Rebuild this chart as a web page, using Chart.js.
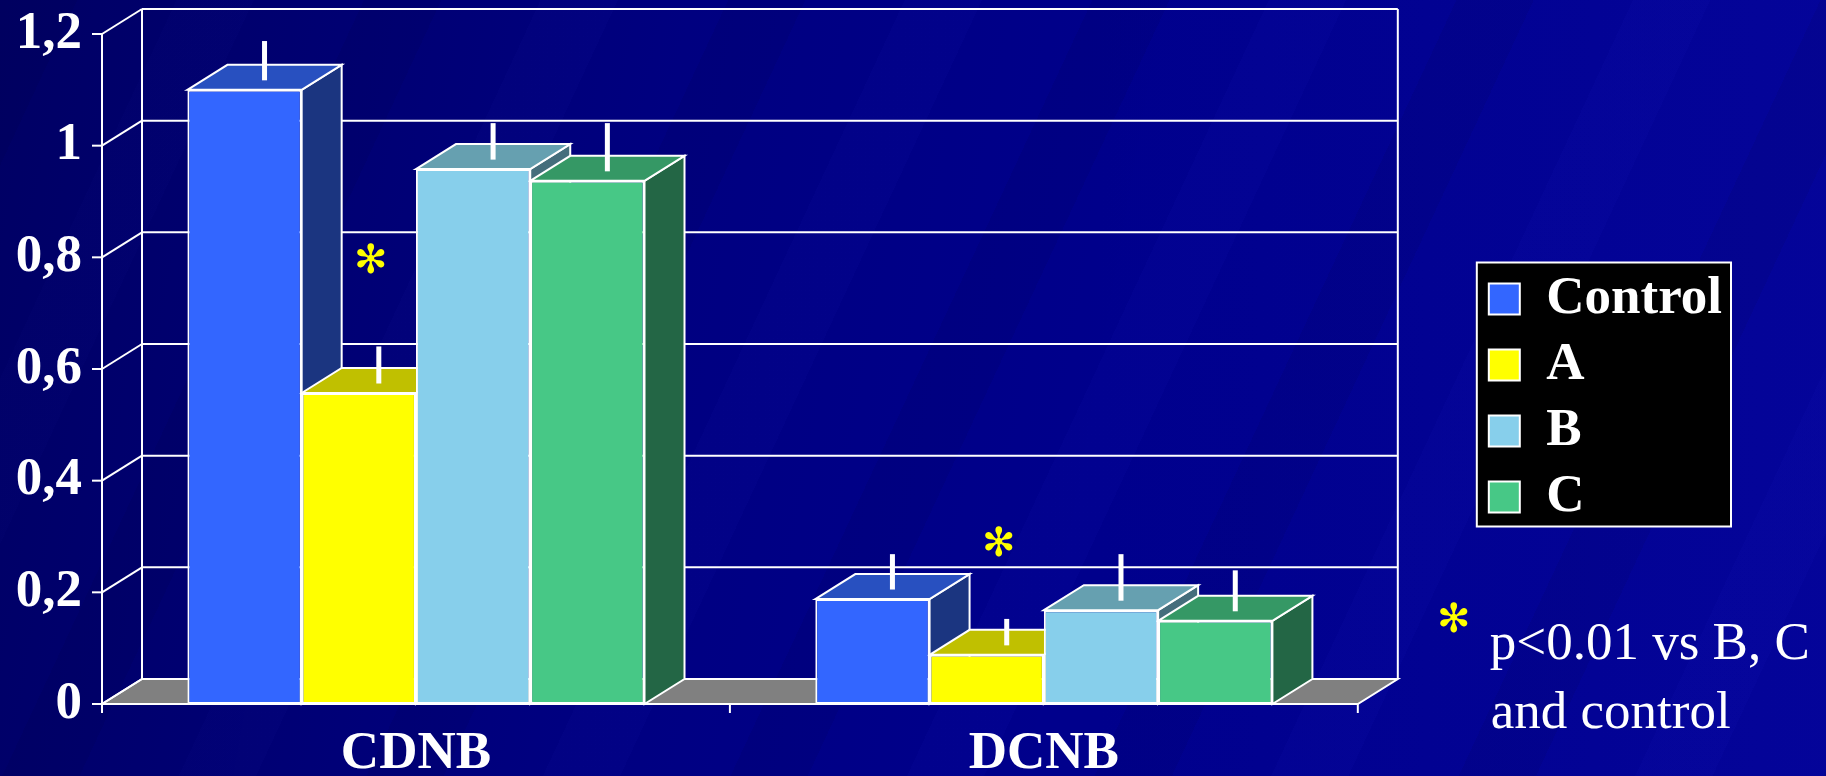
<!DOCTYPE html>
<html>
<head>
<meta charset="utf-8">
<script src="https://cdn.jsdelivr.net/npm/chart.js@4"></script>
<style>
  html, body { margin: 0; padding: 0; }
  body {
    width: 1826px;
    height: 776px;
    overflow: hidden;
    background-color: #00008c;
    background-image:
      linear-gradient(100deg, rgba(0,0,40,0.40) 0%, rgba(0,0,40,0.12) 35%, rgba(0,0,0,0) 60%),
      repeating-linear-gradient(115deg, rgba(0,0,50,0.08) 0px, rgba(0,0,50,0.08) 70px, rgba(0,0,0,0) 70px, rgba(0,0,0,0) 160px, rgba(40,40,220,0.05) 160px, rgba(40,40,220,0.05) 230px, rgba(0,0,0,0) 230px, rgba(0,0,0,0) 330px),
      linear-gradient(90deg, rgba(0,0,0,0) 60%, rgba(20,20,200,0.22) 100%);
  }
  canvas { display: block; }
</style>
</head>
<body>
<canvas id="chart" width="1826" height="776"></canvas>
<script>
// Datos
const categories = ['CDNB', 'DCNB'];
const seriesNames = ['Control', 'A', 'B', 'C'];
const controlValues = [1.10, 0.188];
const aValues = [0.557, 0.088];
const bValues = [0.958, 0.168];
const cValues = [0.937, 0.149];
const controlErrors = [0.065, 0.058];
const aErrors = [0.061, 0.042];
const bErrors = [0.060, 0.078];
const cErrors = [0.081, 0.068];
// nivel (en unidades del eje) de los asteriscos sobre las barras A
const starLevels = [0.79, 0.283];
const yTickLabels = ['0', '0,2', '0,4', '0,6', '0,8', '1', '1,2'];
const footnoteLines = ['p<0.01 vs B, C', 'and control'];

const seriesValues = [controlValues, aValues, bValues, cValues];
const seriesErrors = [controlErrors, aErrors, bErrors, cErrors];

// Estilos
const frontColors = ['#3366ff', '#ffff00', '#87cfeb', '#47c886'];
const topColors = ['#2850c0', '#c0c000', '#66a0b0', '#359865'];
const sideColors = ['#1b3580', '#808000', '#456e7c', '#236645'];
const DX = 40, DY = 25; // profundidad del efecto 3D
const SERIF = '"Liberation Serif", "Times New Roman", serif';
const STAR = '\u273B';

function poly(ctx, pts, fill) {
  ctx.beginPath();
  ctx.moveTo(pts[0][0], pts[0][1]);
  for (let i = 1; i < pts.length; i++) ctx.lineTo(pts[i][0], pts[i][1]);
  ctx.closePath();
  if (fill) { ctx.fillStyle = fill; ctx.fill(); }
  ctx.stroke();
}

function line(ctx, x1, y1, x2, y2) {
  ctx.beginPath();
  ctx.moveTo(x1, y1);
  ctx.lineTo(x2, y2);
  ctx.stroke();
}

// Dibuja paredes, suelo, caras laterales/superiores, barras de error y notas
const box3d = {
  id: 'box3d',
  beforeDraw(chart) {
    const lg = chart.legend;
    const hb = lg.legendHitBoxes;
    if (!hb || !hb.length) return;
    const ctx = chart.ctx;
    const top = hb[0].top - 10;
    const last = hb[hb.length - 1];
    const bottom = last.top + last.height + 3;
    ctx.save();
    ctx.fillStyle = '#000';
    ctx.fillRect(lg.left, top, lg.width, bottom - top);
    ctx.strokeStyle = '#fff';
    ctx.lineWidth = 2;
    ctx.strokeRect(lg.left + 1, top, lg.width - 2, bottom - top);
    ctx.restore();
  },
  beforeDatasetsDraw(chart) {
    const { ctx, chartArea: a, scales: { y } } = chart;
    ctx.save();
    ctx.strokeStyle = '#fff';
    ctx.lineWidth = 2;

    // suelo
    poly(ctx, [[a.left, a.bottom], [a.right, a.bottom], [a.right + DX, a.bottom - DY], [a.left + DX, a.bottom - DY]], '#808080');

    // rejilla en pared izquierda y fondo
    y.ticks.forEach(t => {
      const py = y.getPixelForValue(t.value);
      line(ctx, a.left - 10, py, a.left, py);
      line(ctx, a.left, py, a.left + DX, py - DY);
      line(ctx, a.left + DX, py - DY, a.right + DX, py - DY);
    });
    line(ctx, a.left, a.top, a.left, a.bottom + 9);
    line(ctx, a.left + DX, a.top - DY, a.left + DX, a.bottom - DY);
    line(ctx, a.right + DX, a.top - DY, a.right + DX, a.bottom - DY);

    const step = a.width / categories.length;
    for (let k = 1; k <= categories.length; k++) {
      line(ctx, a.left + k * step, a.bottom, a.left + k * step, a.bottom + 9);
    }

    // caras lateral y superior, de izquierda a derecha
    for (let j = 0; j < categories.length; j++) {
      chart.data.datasets.forEach((ds, i) => {
        const bar = chart.getDatasetMeta(i).data[j];
        const l = bar.x - bar.width / 2, r = bar.x + bar.width / 2;
        poly(ctx, [[r, bar.y], [r + DX, bar.y - DY], [r + DX, bar.base - DY], [r, bar.base]], sideColors[i]);
        poly(ctx, [[l, bar.y], [l + DX, bar.y - DY], [r + DX, bar.y - DY], [r, bar.y]], topColors[i]);
      });
    }
    ctx.restore();
  },
  afterDatasetsDraw(chart) {
    const { ctx, scales: { y } } = chart;
    ctx.save();
    ctx.strokeStyle = '#fff';
    ctx.lineWidth = 5;
    chart.data.datasets.forEach((ds, i) => {
      chart.getDatasetMeta(i).data.forEach((bar, j) => {
        const xm = bar.x + DX / 2;
        const yTop = y.getPixelForValue(seriesValues[i][j] + seriesErrors[i][j]) - DY / 2;
        line(ctx, xm, bar.y - DY / 2 + 3, xm, yTop);
      });
    });

    // asteriscos de significación sobre las barras A
    ctx.fillStyle = '#ffff00';
    ctx.font = '40px "DejaVu Sans"';
    ctx.textAlign = 'center';
    ctx.textBaseline = 'middle';
    chart.getDatasetMeta(1).data.forEach((bar, j) => {
      ctx.fillText(STAR, bar.x + 12, y.getPixelForValue(starLevels[j]));
    });
    ctx.restore();
  },
  afterDraw(chart) {
    const lg = chart.legend;
    const hb = lg.legendHitBoxes;
    const last = hb[hb.length - 1];
    const boxBottom = last.top + last.height + 3;
    const ctx = chart.ctx;
    ctx.save();
    ctx.fillStyle = '#ffff00';
    ctx.font = '40px "DejaVu Sans"';
    ctx.textAlign = 'center';
    ctx.textBaseline = 'middle';
    ctx.fillText(STAR, lg.left - 22, boxBottom + 95);
    ctx.fillStyle = '#fff';
    ctx.font = '53px ' + SERIF;
    ctx.textAlign = 'left';
    ctx.textBaseline = 'alphabetic';
    ctx.fillText(footnoteLines[0], lg.left + 14, boxBottom + 132);
    ctx.fillText(footnoteLines[1], lg.left + 15, boxBottom + 201);
    ctx.restore();
  }
};

const tickFont = { family: SERIF, size: 53, weight: 'bold' };

new Chart(document.getElementById('chart'), {
  type: 'bar',
  data: {
    labels: categories,
    datasets: seriesNames.map((name, i) => ({
      label: name,
      data: seriesValues[i],
      backgroundColor: frontColors[i],
      borderColor: '#ffffff',
      borderWidth: 2,
      borderSkipped: false,
      categoryPercentage: 0.728,
      barPercentage: 1.0
    }))
  },
  options: {
    responsive: false,
    animation: false,
    layout: {
      autoPadding: false,
      padding: { left: 0, top: 20, right: 94, bottom: 0 }
    },
    plugins: {
      legend: {
        position: 'right',
        align: 'center',
        labels: {
          color: '#ffffff',
          font: tickFont,
          boxWidth: 31,
          boxHeight: 31,
          padding: 13
        }
      },
      tooltip: { enabled: false }
    },
    scales: {
      x: {
        grid: { display: false, drawTicks: false },
        border: { display: false },
        ticks: { color: '#ffffff', font: tickFont, padding: 19 },
        afterFit(s) { s.height = 72; }
      },
      y: {
        min: 0,
        max: 1.2,
        grid: { display: false, drawTicks: false },
        border: { display: false },
        ticks: {
          stepSize: 0.2,
          color: '#ffffff',
          // lineHeight pequeño: el margen superior del área queda en 34 px
          font: { family: SERIF, size: 53, weight: 'bold', lineHeight: 0.5283 },
          padding: 20,
          callback: (v, i) => yTickLabels[i]
        },
        afterFit(s) { s.width = 102; }
      },
      // eje invisible que deja el hueco entre el gráfico y la leyenda
      yGap: {
        type: 'linear',
        position: 'right',
        grid: { display: false, drawTicks: false },
        border: { display: false },
        ticks: { display: false },
        afterFit(s) { s.width = 118; }
      }
    }
  },
  plugins: [box3d]
});
</script>
</body>
</html>
